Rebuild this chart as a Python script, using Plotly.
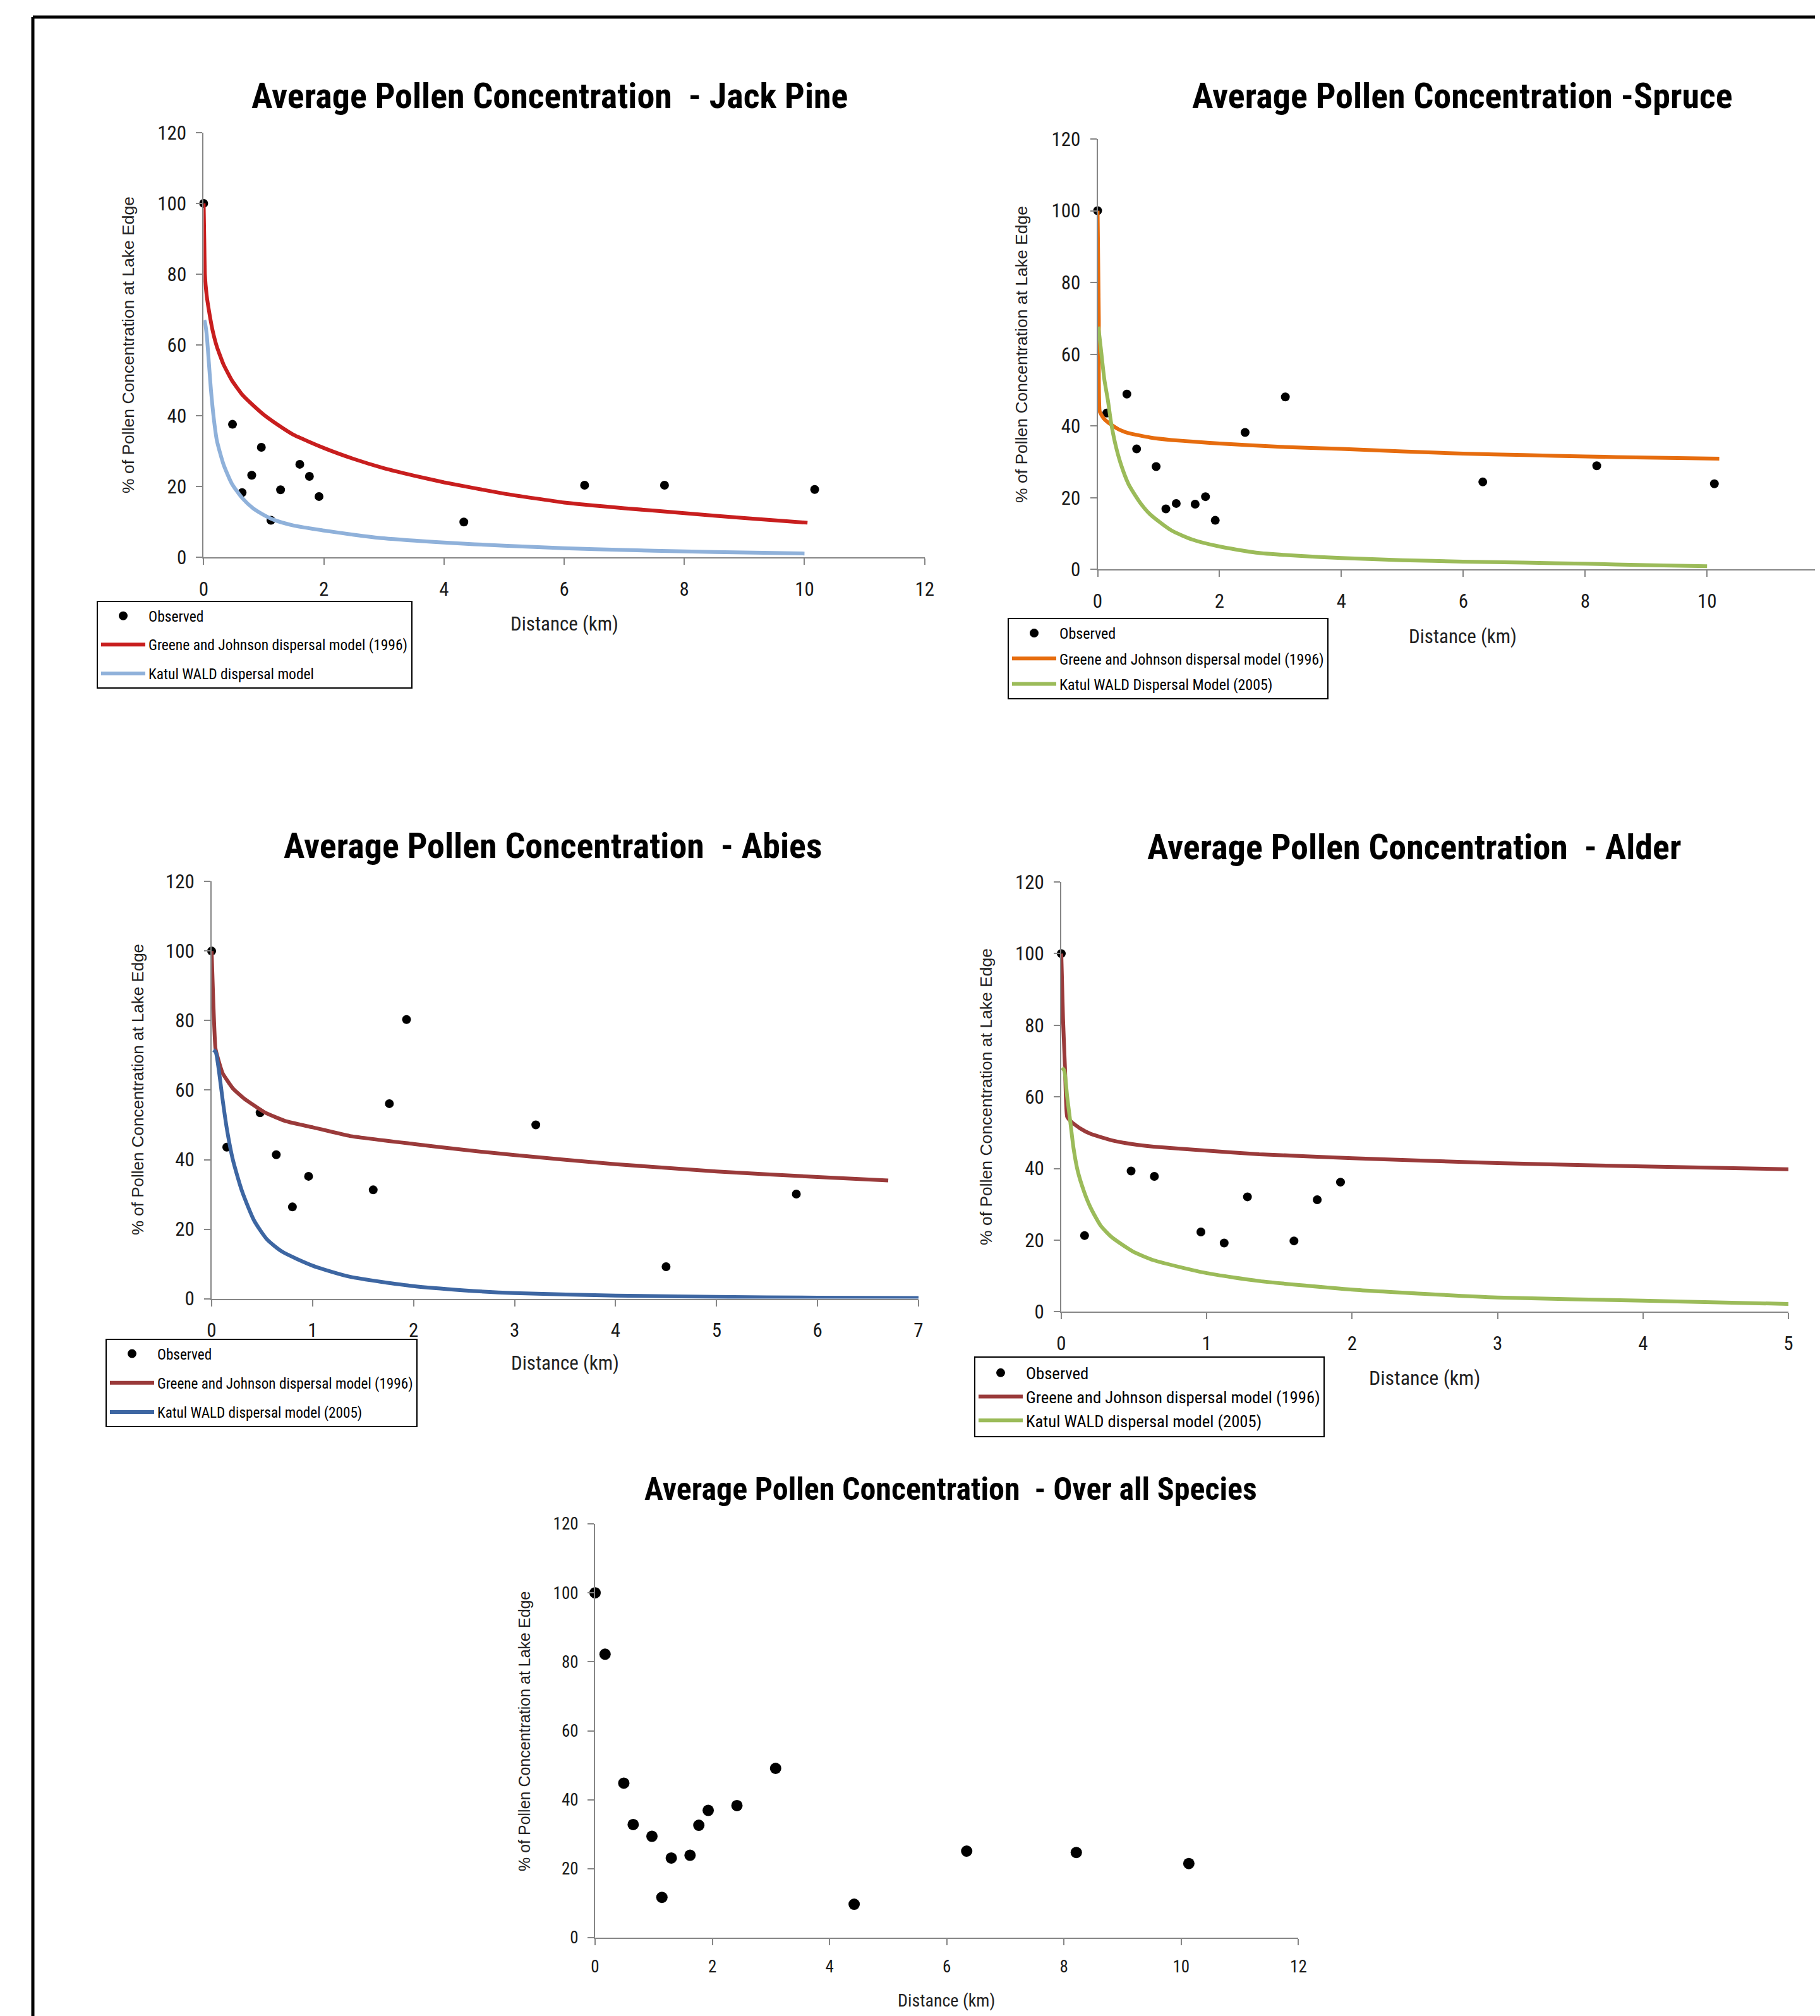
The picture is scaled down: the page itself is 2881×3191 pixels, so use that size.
import plotly.graph_objects as go

W, H = 2881, 3191
OFF = 8  # page body margin compensation
NARROW = "Liberation Sans Narrow, Arial Narrow, Roboto Condensed, sans-serif"
ARIAL = "Liberation Sans, Arial, sans-serif"

# ---------------- data ----------------
# Jack Pine
jp_dist = [0, 0.48, 0.64, 0.80, 0.96, 1.12, 1.28, 1.60, 1.76, 1.92, 4.33, 6.34, 7.67, 10.17]
jp_obs = [100, 37.6, 18.3, 23.2, 31.1, 10.5, 19.1, 26.3, 22.9, 17.2, 10.0, 20.4, 20.4, 19.2]
jp_gj_x = [0, 0.01, 0.02, 0.05, 0.1, 0.15, 0.22, 0.33, 0.47, 0.64, 0.82, 1.0, 1.17, 1.5, 2.0,
           2.5, 3.0, 3.5, 4.0, 5.0, 6.0, 7.0, 8.0, 9.0, 10.05]
jp_gj_y = [100, 90, 80, 74, 68.5, 64, 59.5, 54.5, 50, 46, 43, 40.3, 38.2, 34.6, 30.9,
           27.8, 25.2, 23.1, 21.2, 18.0, 15.5, 13.9, 12.5, 11.1, 9.8]
jp_k_x = [0.01, 0.02, 0.05, 0.08, 0.12, 0.17, 0.22, 0.33, 0.47, 0.64, 0.82, 1.0, 1.17, 1.5,
          2.0, 2.5, 3.0, 4.0, 5.0, 6.0, 7.0, 8.0, 9.0, 10.0]
jp_k_y = [67, 66.5, 63, 56.5, 47.5, 39, 33, 26.3, 20.8, 16.8, 13.9, 12.0, 10.6, 9.0,
          7.6, 6.4, 5.4, 4.2, 3.3, 2.6, 2.1, 1.7, 1.4, 1.1]

# Spruce
sp_dist = [0, 0.15, 0.48, 0.64, 0.96, 1.12, 1.29, 1.60, 1.77, 1.93, 2.42, 3.08, 6.32, 8.19, 10.12]
sp_obs = [100, 43.6, 48.9, 33.6, 28.7, 16.9, 18.4, 18.2, 20.3, 13.7, 38.2, 48.1, 24.4, 28.9, 23.9]
sp_gj_x = [0, 0.01, 0.02, 0.035, 0.1, 0.17, 0.34, 0.51, 0.86, 1.21, 1.6, 2.0, 3.0, 4.0, 5.0,
           6.0, 7.0, 8.0, 9.0, 10.2]
sp_gj_y = [100, 85, 69.5, 44, 42.1, 41, 39.1, 38, 36.8, 36.1, 35.6, 35.1, 34.2, 33.6, 32.9,
           32.3, 31.9, 31.5, 31.2, 30.9]
sp_k_x = [0.01, 0.03, 0.06, 0.11, 0.17, 0.22, 0.29, 0.375, 0.51, 0.69, 0.86, 1.21, 1.56, 2.0,
          2.6, 3.3, 4.0, 5.0, 6.0, 7.0, 8.0, 9.0, 10.0]
sp_k_y = [67.7, 65, 60.5, 53, 47, 41, 35, 29.7, 23.7, 18.8, 15.4, 10.9, 8.3, 6.4,
          4.7, 3.8, 3.2, 2.6, 2.2, 1.9, 1.6, 1.2, 0.9]

# Abies
ab_dist = [0, 0.15, 0.48, 0.64, 0.80, 0.96, 1.60, 1.76, 1.93, 3.21, 4.50, 5.79]
ab_obs = [100, 43.6, 53.5, 41.4, 26.4, 35.2, 31.3, 56.1, 80.3, 50.0, 9.2, 30.1]
ab_gj_x = [0, 0.017, 0.038, 0.07, 0.11, 0.21, 0.32, 0.53, 0.74, 1.0, 1.37, 2.0, 2.5, 3.0,
           4.0, 5.0, 6.0, 6.7]
ab_gj_y = [100, 85, 72, 68.4, 64.8, 60.5, 57.6, 53.5, 51, 49.3, 46.8, 44.5, 42.8, 41.3,
           38.7, 36.6, 35, 34]
ab_k_x = [0.017, 0.04, 0.07, 0.11, 0.15, 0.21, 0.3, 0.42, 0.55, 0.7, 1.0, 1.37, 2.0, 2.5,
          3.0, 4.0, 5.0, 6.0, 7.0]
ab_k_y = [71.5, 71, 66, 57, 49, 40, 31, 22.5, 17, 13.5, 9.5, 6.3, 3.6, 2.4,
          1.6, 0.9, 0.5, 0.3, 0.2]

# Alder
al_dist = [0, 0.16, 0.48, 0.64, 0.96, 1.12, 1.28, 1.60, 1.76, 1.92]
al_obs = [100, 21.3, 39.3, 37.8, 22.3, 19.2, 32.1, 19.8, 31.3, 36.2]
al_gj_x = [0, 0.012, 0.026, 0.04, 0.07, 0.13, 0.2, 0.345, 0.49, 0.635, 1.0, 1.36, 2.0, 3.0,
           4.0, 5.0]
al_gj_y = [100, 81.8, 67.4, 54.5, 53, 51.2, 49.7, 47.9, 46.8, 46.1, 45, 44, 42.9, 41.5,
           40.6, 39.8]
al_k_x = [0.005, 0.02, 0.04, 0.062, 0.084, 0.113, 0.157, 0.2, 0.27, 0.345, 0.49, 0.635, 1.0,
          1.36, 2.0, 2.5, 3.0, 4.0, 5.0]
al_k_y = [68.1, 67.4, 60.2, 53, 45.7, 39.3, 33.5, 29.2, 24.1, 20.9, 16.9, 14.4, 10.8,
          8.6, 6.2, 5.0, 4.0, 3.1, 2.2]

# Over all species
all_dist = [0, 0.17, 0.49, 0.65, 0.97, 1.14, 1.30, 1.62, 1.77, 1.93, 2.42, 3.08, 4.42, 6.34, 8.21, 10.13]
all_obs = [100, 82.2, 44.8, 32.8, 29.4, 11.7, 23.1, 23.9, 32.6, 36.9, 38.3, 49.1, 9.7, 25.1, 24.7, 21.5]

titles = ["Average Pollen Concentration \u00a0- Jack Pine",
          "Average Pollen Concentration -Spruce",
          "Average Pollen Concentration \u00a0- Abies",
          "Average Pollen Concentration \u00a0- Alder",
          "Average Pollen Concentration \u00a0- Over all Species"]
ytitle = "% of Pollen Concentration at Lake Edge"
xtitle = "Distance (km)"
lbl_obs = "Observed"
lbl_gj = "Greene and Johnson dispersal model (1996)"
lbl_k = ["Katul WALD dispersal model", "Katul WALD Dispersal Model (2005)",
         "Katul WALD dispersal model (2005)", "Katul WALD dispersal model (2005)"]

# ---------------- figure ----------------
fig = go.Figure()

def px_x(v):
    return (v - OFF) / W

def px_y(v):
    return 1 - (v - OFF) / H

panels = [
    dict(ax="", xd=(322.4, 1463.7), yd=(209.8, 882.3), xr=[0, 12], dt=2, tick=31),
    dict(ax="2", xd=(1737.5, 2881), yd=(220, 901.4), xr=[0, 11.853], dt=2, tick=31),
    dict(ax="3", xd=(335, 1454), yd=(1395.3, 2055.6), xr=[0, 7], dt=1, tick=31),
    dict(ax="4", xd=(1680, 2831), yd=(1396, 2076.4), xr=[0, 5], dt=1, tick=31),
    dict(ax="5", xd=(942, 2055.4), yd=(2412, 3067), xr=[0, 12], dt=2, tick=27),
]

series = [
    (jp_dist, jp_obs, jp_gj_x, jp_gj_y, jp_k_x, jp_k_y, "#C81E1E", "#8FB1DA", 14),
    (sp_dist, sp_obs, sp_gj_x, sp_gj_y, sp_k_x, sp_k_y, "#E66C0E", "#9BBB59", 14),
    (ab_dist, ab_obs, ab_gj_x, ab_gj_y, ab_k_x, ab_k_y, "#9A3A3A", "#3D66A2", 14),
    (al_dist, al_obs, al_gj_x, al_gj_y, al_k_x, al_k_y, "#9A3A3A", "#9BBB59", 14),
]

legend_names = ["legend", "legend2", "legend3", "legend4"]
# (left px, top px, font size, group gap)
legend_cfg = [(153, 951, 23.5, 12), (1595, 978, 24, 6), (167, 2119, 23.2, 13), (1542, 2147, 26.7, 0)]

for i, (dx, dy, gx, gy, kx, ky, cg, ck, ms) in enumerate(series):
    a = panels[i]["ax"]
    xa, ya = "x" + a, "y" + a
    lg = legend_names[i]
    fig.add_trace(go.Scatter(x=dx, y=dy, mode="markers", name=lbl_obs,
                             marker=dict(color="black", size=ms), xaxis=xa, yaxis=ya,
                             legend=lg, legendgroup=f"o{i}", cliponaxis=False))
    fig.add_trace(go.Scatter(x=gx, y=gy, mode="lines", name=lbl_gj,
                             line=dict(color=cg, width=6, shape="spline", smoothing=0.4),
                             xaxis=xa, yaxis=ya,
                             legend=lg, legendgroup=f"g{i}", cliponaxis=False))
    fig.add_trace(go.Scatter(x=kx, y=ky, mode="lines", name=lbl_k[i],
                             line=dict(color=ck, width=6, shape="spline", smoothing=0.6),
                             xaxis=xa, yaxis=ya,
                             legend=lg, legendgroup=f"k{i}", cliponaxis=False))

fig.add_trace(go.Scatter(x=all_dist, y=all_obs, mode="markers", name=lbl_obs,
                         marker=dict(color="black", size=18), xaxis="x5", yaxis="y5",
                         showlegend=False, cliponaxis=False))

layout = dict(width=W, height=H, margin=dict(l=0, r=0, t=0, b=0, pad=0, autoexpand=False),
              paper_bgcolor="white", plot_bgcolor="white", showlegend=True)

for p in panels:
    a = p["ax"]
    common = dict(showline=True, linecolor="#868686", linewidth=2, ticks="outside",
                  tickcolor="#868686", tickwidth=2, ticklen=10, showgrid=False,
                  zeroline=False, automargin=False,
                  tickfont=dict(family=NARROW, size=p["tick"], color="#1a1a1a"))
    layout["xaxis" + a] = dict(common, domain=[px_x(p["xd"][0]), min(1, px_x(p["xd"][1]))],
                               range=p["xr"], dtick=p["dt"], tick0=0,
                               anchor="y" + a, ticklabelstandoff=11)
    layout["yaxis" + a] = dict(common, domain=[px_y(p["yd"][1]), px_y(p["yd"][0])],
                               range=[0, 120], dtick=20, tick0=0,
                               anchor="x" + a, ticklabelstandoff=9)

for lg, (lx, ly, fs, gap) in zip(legend_names, legend_cfg):
    layout[lg] = dict(x=px_x(lx), y=px_y(ly), xanchor="left", yanchor="top",
                      bordercolor="black", borderwidth=2, bgcolor="white",
                      font=dict(family=NARROW, size=fs, color="black"),
                      tracegroupgap=gap, itemwidth=70)

fig.update_layout(**layout)

ann = []
title_pos = [(870, 152, 56), (2315, 152, 56), (875, 1339, 56), (2238, 1341, 56), (1505, 2357, 50)]
for t, (tx, ty, fs) in zip(titles, title_pos):
    ann.append(dict(text="<b>" + t + "</b>", x=px_x(tx), y=px_y(ty), xref="paper", yref="paper",
                    showarrow=False, xanchor="center", yanchor="middle",
                    font=dict(family=NARROW, size=fs, color="black")))
ytitle_pos = [(203, 546, 26.5), (1617, 561, 26.5), (218, 1725, 26), (1561, 1736, 26.5), (830, 2741, 25)]
for (tx, ty, fs) in ytitle_pos:
    ann.append(dict(text=ytitle, x=px_x(tx), y=px_y(ty), xref="paper", yref="paper",
                    showarrow=False, xanchor="center", yanchor="middle", textangle=-90,
                    font=dict(family=ARIAL, size=fs, color="#222222")))
xtitle_pos = [(893, 987, 31), (2315, 1007, 31), (894, 2157, 31), (2255, 2181, 32), (1498, 3166, 28)]
for (tx, ty, fs) in xtitle_pos:
    ann.append(dict(text=xtitle, x=px_x(tx), y=px_y(ty), xref="paper", yref="paper",
                    showarrow=False, xanchor="center", yanchor="middle",
                    font=dict(family=NARROW, size=fs, color="#222222")))

shapes = [
    dict(type="line", xref="paper", yref="paper", x0=px_x(52), x1=1, y0=px_y(27), y1=px_y(27),
         line=dict(color="black", width=5)),
    dict(type="line", xref="paper", yref="paper", x0=px_x(52), x1=px_x(52), y0=0, y1=px_y(27),
         line=dict(color="black", width=5)),
]
fig.update_layout(annotations=ann, shapes=shapes)

fig.write_html("out.html")
